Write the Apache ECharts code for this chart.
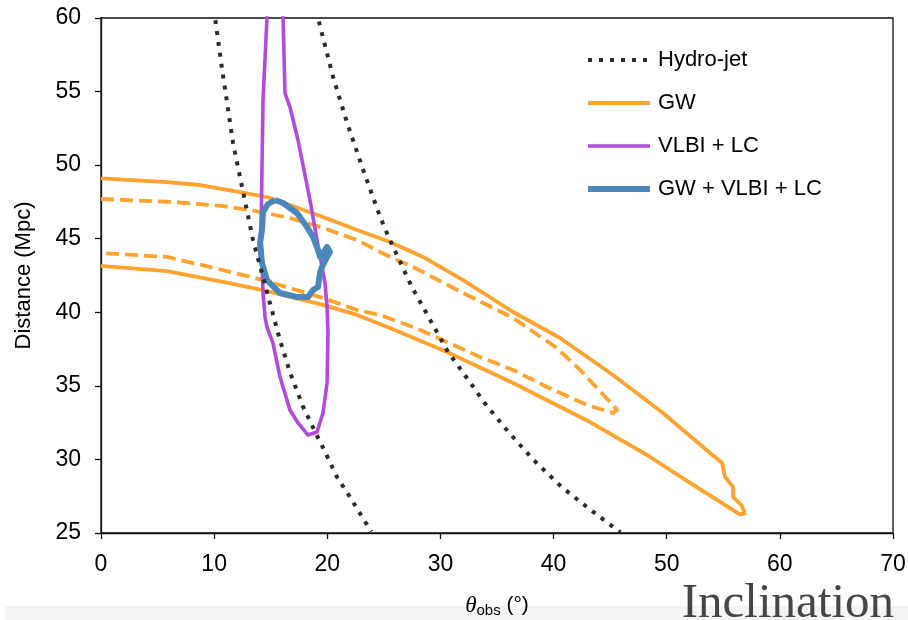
<!DOCTYPE html>
<html>
<head>
<meta charset="utf-8">
<title>Inclination</title>
<script src="https://cdn.jsdelivr.net/npm/echarts@6/dist/echarts.min.js"></script>
<style>
  html, body { margin: 0; padding: 0; background: #fff; }
  #chart { width: 908px; height: 620px; }
</style>
</head>
<body>
<div id="chart"></div>
<script>
// axis ticks
var xTicks = [0, 10, 20, 30, 40, 50, 60, 70];
var yTicks = [25, 30, 35, 40, 45, 50, 55, 60];

// hydro-jet constraint, two dotted bounds  [theta_obs, distance]
var hydroLeft = [
  [10.0, 60.6], [10.08, 60], [10.67, 56.7], [11.67, 51.5], [12.55, 48.2], [13.44, 44.9],
  [14.32, 42.4], [14.94, 40.6], [15.82, 38.1], [16.71, 35.9], [17.85, 33.6],
  [18.91, 31.9], [19.62, 30.8], [20.86, 28.8], [22.0, 27.45], [23.15, 26.0], [23.9, 25.1]
];
var hydroRight = [
  [19.1, 60.5], [19.18, 60], [20.51, 56.0], [21.74, 52.9], [23.16, 49.7], [24.66, 46.5],
  [25.54, 44.9], [27.49, 41.7], [29.08, 39.5], [30.67, 37.3], [32.0, 35.9],
  [33.94, 33.8], [35.97, 31.9], [38.18, 30.0], [40.75, 28.1], [43.22, 26.6], [45.9, 25.05]
];

// GW contours (outer solid, inner dashed), open at theta = 0
var gwOuter = [
  [0, 49.1], [5.83, 48.85], [8.75, 48.65], [12.29, 48.17], [14.67, 47.83], [16.7, 47.29],
  [19.62, 46.48], [22.63, 45.59], [25.54, 44.78], [28.46, 43.76], [32.0, 42.19],
  [36.42, 40.02], [40.57, 38.25], [45.25, 35.74], [49.67, 33.16], [52.68, 31.18],
  [54.89, 29.76], [55.15, 28.81], [55.86, 28.13], [55.86, 27.45], [56.6, 26.9],
  [56.9, 26.35], [56.5, 26.25],
  [52.06, 28.4], [48.26, 30.3], [43.22, 32.54], [36.42, 35.19], [30.58, 37.3],
  [25.54, 38.93], [22.63, 39.82], [19.62, 40.5], [14.32, 41.51], [10.78, 42.06],
  [5.83, 42.8], [0, 43.15]
];
var gwInner = [
  [0, 47.7], [6.36, 47.5], [10.78, 47.22], [13.17, 46.95], [16.7, 46.41], [19.62, 45.73],
  [22.63, 44.91], [25.54, 43.76], [27.58, 43.08], [32.0, 41.31], [36.42, 39.61],
  [40.3, 37.57], [42.34, 36.08], [43.84, 34.85], [44.99, 33.9], [45.61, 33.36],
  [45.25, 33.16], [42.96, 33.7], [39.42, 34.92], [36.42, 36.08], [33.5, 36.96],
  [30.58, 37.98], [27.58, 39.0], [24.66, 39.81], [22.63, 40.16], [19.62, 40.97],
  [14.32, 42.19], [10.78, 42.87], [5.83, 43.76], [0, 44.03]
];

// VLBI + light curve contour
var vlbiLc = [
  [14.7, 61], [14.67, 60], [14.32, 54.43], [14.23, 49.87], [14.14, 45.39], [14.32, 41.31],
  [14.5, 39.68], [14.67, 39.0], [15.2, 37.91], [15.82, 35.6], [16.7, 33.36],
  [17.41, 32.48], [18.3, 31.66], [19.09, 31.86], [19.62, 33.16], [19.98, 35.19],
  [20.06, 38.59], [19.98, 40.36], [19.8, 41.99], [19.09, 44.91], [18.47, 47.63],
  [17.41, 51.71], [16.7, 53.95], [16.26, 54.9], [16.09, 60], [16.05, 61]
];

// joint GW + VLBI + LC contour
var joint = [
  [15.38, 47.63], [16.09, 47.43], [17.32, 46.75], [18.21, 45.8], [18.74, 45.12],
  [19.18, 44.23], [19.36, 43.76], [19.98, 44.44], [20.24, 44.1], [19.98, 43.76],
  [19.53, 43.08], [19.36, 42.67], [19.18, 41.72], [18.74, 41.51], [18.3, 41.04],
  [17.32, 41.04], [15.82, 41.31], [14.67, 42.19], [14.23, 43.35], [14.05, 44.71],
  [14.23, 45.59], [14.32, 46.82], [14.76, 47.36], [15.38, 47.63]
];

var legendNames = ['Hydro-jet', 'GW', 'VLBI + LC', 'GW + VLBI + LC'];

var FONT = 'Liberation Sans';
var ORANGE = '#ffa22e', PURPLE = '#b14ade', BLUE = '#4b87bb', DOTS = '#2b2b2b';

function contour(name, data, color, width, type, z) {
  return {
    name: name, type: 'line', data: data, symbol: 'none', smooth: false,
    z: z, clip: true, animation: false,
    lineStyle: { color: color, width: width, type: type, cap: 'butt', join: 'round' },
    itemStyle: { color: color }
  };
}

var chart = echarts.init(document.getElementById('chart'));
chart.setOption({
  animation: false,
  grid: {
    left: 101, right: 15, top: 18, bottom: 87,
    outerBoundsMode: 'none', containLabel: false,
    show: true, borderColor: '#111', borderWidth: 1.3, backgroundColor: 'transparent'
  },
  xAxis: {
    type: 'value', min: xTicks[0], max: xTicks[xTicks.length - 1], interval: 10,
    name: '{t|θ}{s|obs}{u| (°)}', nameLocation: 'middle', nameGap: 60,
    nameTextStyle: {
      rich: {
        t: { fontFamily: 'Liberation Serif', fontStyle: 'italic', fontSize: 23, color: '#000' },
        s: { fontFamily: FONT, fontSize: 15, color: '#000', padding: [10, 0, 0, 0] },
        u: { fontFamily: FONT, fontSize: 21, color: '#000' }
      }
    },
    axisLine: { lineStyle: { color: '#111', width: 1.3 } },
    axisTick: { length: 6, lineStyle: { color: '#111', width: 1.3 } },
    axisLabel: { fontFamily: FONT, fontSize: 23, color: '#000', margin: 20 },
    splitLine: { show: false }
  },
  yAxis: {
    type: 'value', min: yTicks[0], max: yTicks[yTicks.length - 1], interval: 5,
    name: 'Distance (Mpc)', nameLocation: 'middle', nameGap: 66, nameRotate: 90,
    nameTextStyle: { fontFamily: FONT, fontSize: 22, color: '#000' },
    axisLine: { lineStyle: { color: '#111', width: 1.3 } },
    axisTick: { length: 6, lineStyle: { color: '#111', width: 1.3 } },
    axisLabel: { fontFamily: FONT, fontSize: 23, color: '#000', margin: 20 },
    splitLine: { show: false }
  },
  legend: {
    data: legendNames, orient: 'vertical', left: 580, top: 43,
    itemWidth: 62, itemHeight: 24, itemGap: 19,
    lineStyle: { width: 'inherit' },
    itemStyle: { opacity: 0 },
    selectedMode: false,
    textStyle: { fontFamily: FONT, fontSize: 22, color: '#000', lineHeight: 24, padding: [0, 0, 0, 3] }
  },
  graphic: [
    { type: 'rect', left: 5, top: 606, z: -1, shape: { width: 903, height: 14 }, style: { fill: '#f4f4f4' } },
    { type: 'text', right: 14, top: 580, z: 10,
      style: { text: 'Inclination', fill: '#464646', font: '49px "Liberation Serif"' } }
  ],
  series: [
    contour('Hydro-jet', hydroLeft, DOTS, 4, [4, 7], 10),
    contour('Hydro-jet', hydroRight, DOTS, 4, [4, 7], 10),
    contour('GW', gwOuter, ORANGE, 3.8, 'solid', 2),
    contour('GW', gwInner, ORANGE, 3.8, [13, 6], 2),
    contour('VLBI + LC', vlbiLc, PURPLE, 3.6, 'solid', 3),
    contour('GW + VLBI + LC', joint, BLUE, 6, 'solid', 4)
  ]
});
</script>
</body>
</html>
